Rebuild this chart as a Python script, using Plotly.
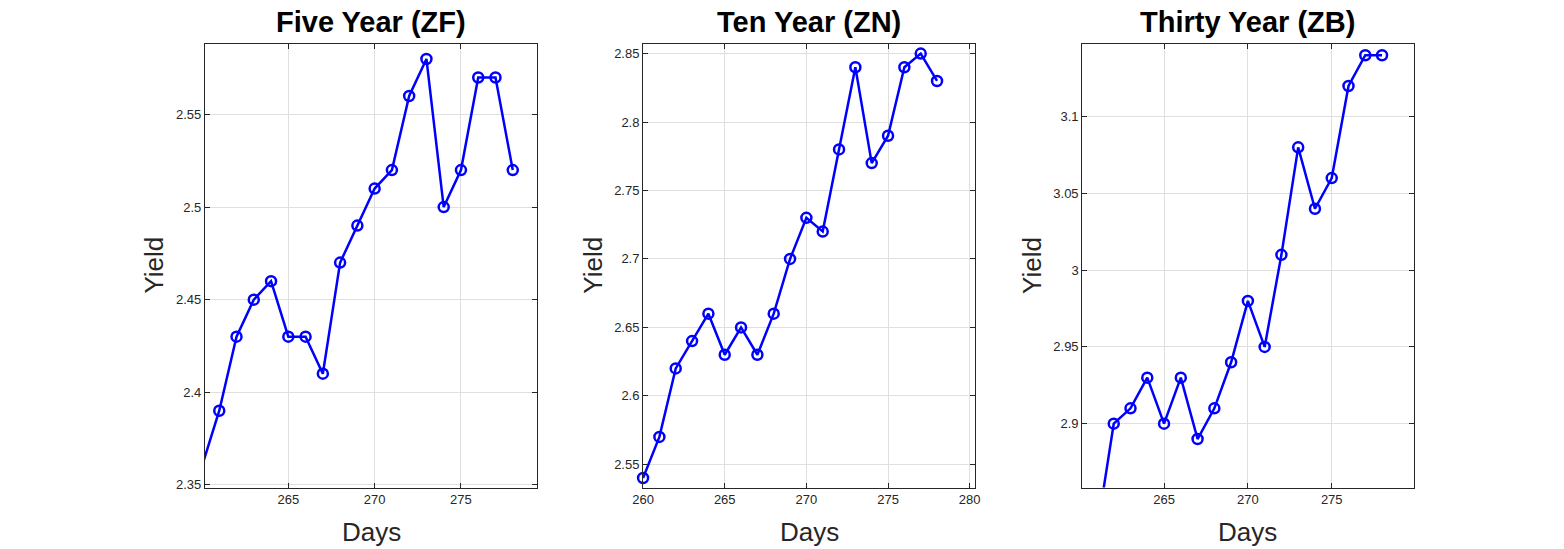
import plotly.graph_objects as go

# days and yields per contract
days_five = [260, 261, 262, 263, 264, 265, 266, 267, 268, 269, 270, 271, 272, 273, 274, 275, 276, 277, 278]
yield_five = [2.36, 2.39, 2.43, 2.45, 2.46, 2.43, 2.43, 2.41, 2.47, 2.49, 2.51, 2.52, 2.56, 2.58, 2.50, 2.52, 2.57, 2.57, 2.52]

days_ten = [260, 261, 262, 263, 264, 265, 266, 267, 268, 269, 270, 271, 272, 273, 274, 275, 276, 277, 278]
yield_ten = [2.54, 2.57, 2.62, 2.64, 2.66, 2.63, 2.65, 2.63, 2.66, 2.70, 2.73, 2.72, 2.78, 2.84, 2.77, 2.79, 2.84, 2.85, 2.83]

days_thirty = [261, 262, 263, 264, 265, 266, 267, 268, 269, 270, 271, 272, 273, 274, 275, 276, 277, 278]
yield_thirty = [2.83, 2.90, 2.91, 2.93, 2.90, 2.93, 2.89, 2.91, 2.94, 2.98, 2.95, 3.01, 3.08, 3.04, 3.06, 3.12, 3.14, 3.14]

titles = ['Five Year (ZF)', 'Ten Year (ZN)', 'Thirty Year (ZB)']

xticks_five = [265, 270, 275]
xticks_ten = [260, 265, 270, 275, 280]
xticks_thirty = [265, 270, 275]
yticks_five = [2.35, 2.4, 2.45, 2.5, 2.55]
ytext_five = ['2.35', '2.4', '2.45', '2.5', '2.55']
yticks_ten = [2.55, 2.6, 2.65, 2.7, 2.75, 2.8, 2.85]
ytext_ten = ['2.55', '2.6', '2.65', '2.7', '2.75', '2.8', '2.85']
yticks_thirty = [2.9, 2.95, 3.0, 3.05, 3.1]
ytext_thirty = ['2.9', '2.95', '3', '3.05', '3.1']

W, H = 1564, 549
FONT = 'Liberation Sans'
INK = '#262626'


# the photo comes out ~1% smaller than the layout, so undo that when placing things
def px(x):
    return (x - 8.7) / 0.9917 / W


def py(y):
    return 1 - (y - 0.4) / 0.991 / H


# axes boxes in pixels (left, right), shared top/bottom
boxes = [(203, 536), (642, 975), (1082, 1414)]
top, bottom = 44, 488
xranges = [[260.17, 279.42], [260.0, 280.35], [260.12, 279.88]]
yranges = [[2.3485, 2.5883], [2.533, 2.8573], [2.8584, 3.1476]]

series = [(days_five, yield_five, xticks_five, yticks_five, ytext_five),
          (days_ten, yield_ten, xticks_ten, yticks_ten, ytext_ten),
          (days_thirty, yield_thirty, xticks_thirty, yticks_thirty, ytext_thirty)]

fig = go.Figure()
annotations = []
for i, (x, y, xt, yt, ytt) in enumerate(series):
    n = '' if i == 0 else str(i + 1)
    # matlab drops markers whose centre falls outside the axes
    sizes = [10 if xranges[i][0] - 0.01 <= d <= xranges[i][1] and yranges[i][0] <= v <= yranges[i][1] else 0
             for d, v in zip(x, y)]
    fig.add_trace(go.Scatter(
        x=x, y=y, mode='lines+markers', xaxis='x' + n, yaxis='y' + n,
        line=dict(color='#0000FF', width=2.5),
        marker=dict(symbol='circle-open', size=sizes, opacity=1, color='#0000FF', line=dict(width=2.5)),
        cliponaxis=False, showlegend=False))
    left, right = boxes[i]
    axis_common = dict(showgrid=True, gridcolor='#DFDFDF', gridwidth=1, zeroline=False,
                       showline=True, linecolor=INK, linewidth=1, mirror='allticks',
                       ticks='inside', ticklen=5, tickcolor=INK,
                       tickfont=dict(family=FONT, size=13, color=INK))
    fig.update_layout(**{
        'xaxis' + n: dict(domain=[px(left), px(right)], range=xranges[i],
                          anchor='y' + n, tickmode='array', tickvals=xt, **axis_common),
        'yaxis' + n: dict(domain=[py(bottom), py(top)], range=yranges[i],
                          anchor='x' + n, tickmode='array', tickvals=yt, ticktext=ytt,
                          **axis_common),
    })
    cx = px((left + right) / 2)
    annotations.append(dict(text='<b>' + titles[i] + '</b>', x=cx, y=py(22),
                            xref='paper', yref='paper', showarrow=False,
                            font=dict(family=FONT, size=29, color='black'),
                            xanchor='center', yanchor='middle'))
    annotations.append(dict(text='Days', x=cx, y=py(532),
                            xref='paper', yref='paper', showarrow=False,
                            font=dict(family=FONT, size=26, color=INK),
                            xanchor='center', yanchor='middle'))
    annotations.append(dict(text='Yield', x=px(left - 51), y=py((top + bottom) / 2),
                            xref='paper', yref='paper', showarrow=False, textangle=-90,
                            font=dict(family=FONT, size=26, color=INK),
                            xanchor='center', yanchor='middle'))

fig.update_layout(width=W, height=H, autosize=False,
                  margin=dict(l=0, r=0, t=0, b=0),
                  paper_bgcolor='white', plot_bgcolor='white',
                  annotations=annotations)

# page body has an 8px default margin, drop it so the figure sits at 0,0
fig.write_html('out.html', config={'displayModeBar': False},
               post_script="document.body.style.margin='0';document.body.style.overflow='hidden';")
